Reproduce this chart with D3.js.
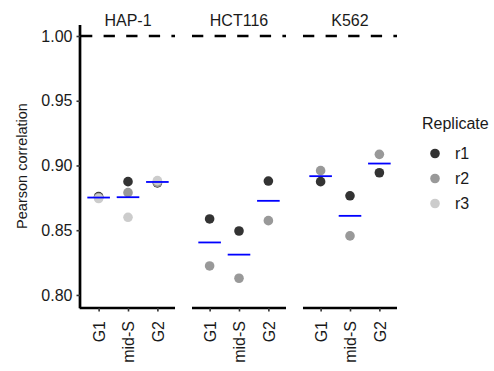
<!DOCTYPE html>
<html>
<head>
<meta charset="utf-8">
<script src="https://cdn.jsdelivr.net/npm/d3@7"></script>
<style>
  body { margin: 0; background: #fff; }
  svg { display: block; font-family: "Liberation Sans", Arial, sans-serif; }
  text { fill: #1a1a1a; }
</style>
</head>
<body>
<svg width="494" height="371"></svg>
<script>
// cell lines (facets), phases, replicates
var cellLines = ["HAP-1", "HCT116", "K562"];
var phases = ["G1", "mid-S", "G2"];
var replicates = ["r1", "r2", "r3"];

// Pearson correlation per replicate, rows = phases (G1, mid-S, G2); null = no sample
var hap1 = {
  r1: [0.8760, 0.8875, 0.8865],
  r2: [0.8752, 0.8790, 0.8870],
  r3: [0.8745, 0.8600, 0.8883]
};
var hct116 = {
  r1: [0.8587, 0.8494, 0.8880],
  r2: [0.8224, 0.8129, 0.8574],
  r3: [null, null, null]
};
var k562 = {
  r1: [0.8875, 0.8766, 0.8944],
  r2: [0.8960, 0.8456, 0.9086],
  r3: [null, null, null]
};
var yTicks = [0.80, 0.85, 0.90, 0.95, 1.00];
var refLine = 1.00;

var valuesByLine = { "HAP-1": hap1, "HCT116": hct116, "K562": k562 };
var colors = d3.scaleOrdinal().domain(replicates).range(["#333333", "#999999", "#cccccc"]);

var rows = [];
cellLines.forEach(function (cl) {
  replicates.forEach(function (r) {
    phases.forEach(function (p, i) {
      var v = valuesByLine[cl][r][i];
      if (v != null) rows.push({ line: cl, rep: r, phase: p, value: v });
    });
  });
});

var svg = d3.select("svg");

var facet = d3.scaleBand().domain(cellLines).range([81, 397]).paddingInner(0.153).paddingOuter(0);
var x = d3.scalePoint().domain(phases).range([0, facet.bandwidth()]).padding(0.6);
var y = d3.scaleLinear().domain([0.7907, 1.0085]).range([307, 25]);

// y axis
var yAxis = svg.append("g").attr("transform", "translate(80,0)")
  .call(d3.axisLeft(y).tickValues(yTicks).tickFormat(d3.format(".2f")).tickSize(3.5).tickPadding(4));
yAxis.select(".domain").attr("stroke", "#000").attr("stroke-width", 2.7).attr("d", "M0," + y.range()[1] + "V" + (y.range()[0] + 1.3));
yAxis.selectAll(".tick line").attr("stroke", "#333").attr("stroke-width", 1.6);
yAxis.selectAll(".tick text").attr("font-size", 16).attr("fill", "#1a1a1a");

svg.append("text")
  .attr("transform", "translate(26.5," + ((y.range()[0] + y.range()[1]) / 2) + ") rotate(-90)")
  .attr("text-anchor", "middle")
  .attr("font-size", 14.5)
  .text("Pearson correlation");

cellLines.forEach(function (cl) {
  var g = svg.append("g").attr("transform", "translate(" + facet(cl) + ",0)");

  // reference line
  g.append("line")
    .attr("x1", 0).attr("x2", facet.bandwidth())
    .attr("y1", y(refLine)).attr("y2", y(refLine))
    .attr("stroke", "#000").attr("stroke-width", 2.6)
    .attr("stroke-dasharray", "11.3,11.3");

  // x axis
  var xAxis = g.append("g").attr("transform", "translate(0,308)")
    .call(d3.axisBottom(x).tickSize(3.5).tickPadding(4));
  xAxis.select(".domain").attr("stroke", "#000").attr("stroke-width", 2.7)
    .attr("d", "M" + (cl === cellLines[0] ? -1.3 : 0) + ",0H" + facet.bandwidth());
  xAxis.selectAll(".tick line").attr("stroke", "#333").attr("stroke-width", 1.6);
  xAxis.selectAll(".tick text")
    .attr("font-size", 16).attr("fill", "#1a1a1a")
    .attr("text-anchor", "end")
    .attr("transform", "rotate(-90)")
    .attr("x", -13).attr("y", 0).attr("dy", "0.36em").attr("dx", 0);

  // strip title
  g.append("text")
    .attr("x", facet.bandwidth() / 2).attr("y", 26)
    .attr("text-anchor", "middle")
    .attr("font-size", 16)
    .text(cl);

  var data = rows.filter(function (d) { return d.line === cl; });

  g.selectAll("circle").data(data).enter().append("circle")
    .attr("cx", function (d) { return x(d.phase); })
    .attr("cy", function (d) { return y(d.value); })
    .attr("r", 4.8)
    .attr("fill", function (d) { return colors(d.rep); });

  var means = phases.map(function (p) {
    return { phase: p, value: d3.mean(data.filter(function (d) { return d.phase === p; }), function (d) { return d.value; }) };
  });
  g.selectAll(".mean").data(means).enter().append("line")
    .attr("class", "mean")
    .attr("x1", function (d) { return x(d.phase) - 11.3; })
    .attr("x2", function (d) { return x(d.phase) + 11.3; })
    .attr("y1", function (d) { return y(d.value); })
    .attr("y2", function (d) { return y(d.value); })
    .attr("stroke", "#0000ff").attr("stroke-width", 1.8);
});

// legend
var legend = svg.append("g").attr("transform", "translate(422,0)");
legend.append("text").attr("x", 0).attr("y", 129).attr("font-size", 16).text("Replicate");
var item = legend.selectAll(".item").data(replicates).enter().append("g")
  .attr("transform", function (d, i) { return "translate(0," + (153.5 + i * 25) + ")"; });
item.append("circle").attr("cx", 13).attr("cy", 0).attr("r", 4.8).attr("fill", function (d) { return colors(d); });
item.append("text").attr("x", 33).attr("y", 0).attr("dy", "0.36em").attr("font-size", 16).text(function (d) { return d; });
</script>
</body>
</html>
